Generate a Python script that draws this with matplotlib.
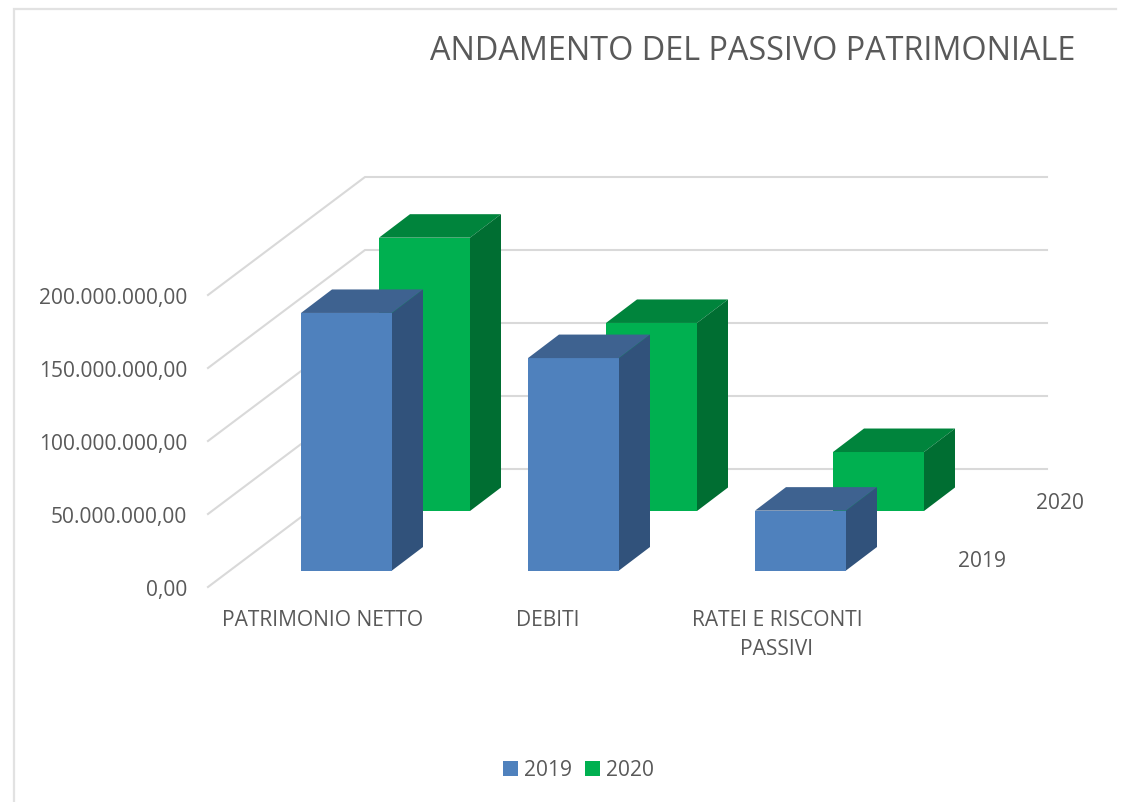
"""Pseudo-3D column chart: andamento del passivo patrimoniale."""

import matplotlib
matplotlib.use("Agg")
import matplotlib.pyplot as plt
from matplotlib.patches import Patch, Polygon

plt.rcParams["font.family"] = ["Open Sans", "DejaVu Sans"]

# values in millions of euro
CATEGORIES = ["PATRIMONIO NETTO", "DEBITI", "RATEI E RISCONTI\nPASSIVI"]
SERIES = ["2019", "2020"]
VALUES_2019 = [176.4, 145.5, 41.0]
VALUES_2020 = [187.2, 128.8, 40.4]
TICKS = [0, 50, 100, 150, 200]
TICK_LABELS = ["0,00", "50.000.000,00", "100.000.000,00", "150.000.000,00", "200.000.000,00"]

TEXT = "#595959"
GRID = "#D9D9D9"
BLUE = {"front": "#4F81BD", "top": "#3E6290", "side": "#31527B"}
GREEN = {"front": "#00B050", "top": "#00843C", "side": "#006E32"}

# projection of the fake 3D box, in figure pixels
PX_PER_UNIT = 73 / 50
BAR_X0, BAR_Y0 = 301, 571.5
BAR_WIDTH = 91
CAT_STEP = 227
SERIES_DX, SERIES_DY = 78, -59.5
DEPTH_DX, DEPTH_DY = 31, -23.5
FLOOR_FRONT = (208, 588)
FLOOR_BACK = (365, 470)
WALL_RIGHT = 1047
LABEL_X = [323, 547.5, 777]
FONT_SIZE = 15.15


def draw_bar(ax, cat, series, value, colors):
    """One box: front, top and side faces."""
    left = BAR_X0 + cat * CAT_STEP + series * SERIES_DX
    right = left + BAR_WIDTH
    bottom = BAR_Y0 + series * SERIES_DY
    top = bottom - value * PX_PER_UNIT
    dx, dy = DEPTH_DX, DEPTH_DY
    ax.add_patch(Polygon([(left, bottom), (right, bottom), (right, top), (left, top)],
                         fc=colors["front"], ec="none", zorder=3))
    ax.add_patch(Polygon([(left, top), (right, top), (right + dx, top + dy), (left + dx, top + dy)],
                         fc=colors["top"], ec="none", zorder=3))
    ax.add_patch(Polygon([(right, bottom), (right + dx, bottom + dy), (right + dx, top + dy), (right, top)],
                         fc=colors["side"], ec="none", zorder=3))


fig = plt.figure(figsize=(11.29, 8.03), dpi=100)
ax = fig.add_axes([0, 0, 1, 1])
ax.set_xlim(0, 1129)
ax.set_ylim(803, 0)
ax.axis("off")

# frame of the pasted chart (only top and left show)
ax.plot([14, 14, 1116], [803, 9.5, 9.5], color="#E2E2E2", lw=1.6, solid_joinstyle="miter", zorder=1)

# gridlines: side wall then back wall
for tick, label in zip(TICKS, TICK_LABELS):
    shift = tick * PX_PER_UNIT
    ax.plot([FLOOR_FRONT[0], FLOOR_BACK[0], WALL_RIGHT],
            [FLOOR_FRONT[1] - shift, FLOOR_BACK[1] - shift, FLOOR_BACK[1] - shift],
            color=GRID, lw=1.5, solid_joinstyle="miter", zorder=1)
    ax.text(187, FLOOR_FRONT[1] + 3 - shift, label, ha="right", va="center",
            fontsize=FONT_SIZE, color=TEXT)

# back row first so the front row covers it
for cat, value in enumerate(VALUES_2020):
    draw_bar(ax, cat, 1, value, GREEN)
for cat, value in enumerate(VALUES_2019):
    draw_bar(ax, cat, 0, value, BLUE)

for x, name in zip(LABEL_X, CATEGORIES):
    ax.text(x, 610, name, ha="center", va="top", fontsize=FONT_SIZE, color=TEXT,
            linespacing=1.52)

ax.text(982, 562, SERIES[0], ha="center", va="center", fontsize=FONT_SIZE, color=TEXT)
ax.text(1060, 504, SERIES[1], ha="center", va="center", fontsize=FONT_SIZE, color=TEXT)

ax.text(753, 51.5, "ANDAMENTO DEL PASSIVO PATRIMONIALE", ha="center", va="center",
        fontsize=23.3, color=TEXT)

handles = [Patch(fc=BLUE["front"], label=SERIES[0]), Patch(fc=GREEN["front"], label=SERIES[1])]
leg = ax.legend(handles=handles, loc="center", bbox_to_anchor=(578.5 / 1129, 1 - 771 / 803),
                ncol=2, frameon=False, fontsize=FONT_SIZE, labelcolor=TEXT,
                handlelength=0.72, handleheight=0.72, handletextpad=0.3, columnspacing=0.62)

fig.savefig("out.png", dpi=100)
plt.close(fig)
